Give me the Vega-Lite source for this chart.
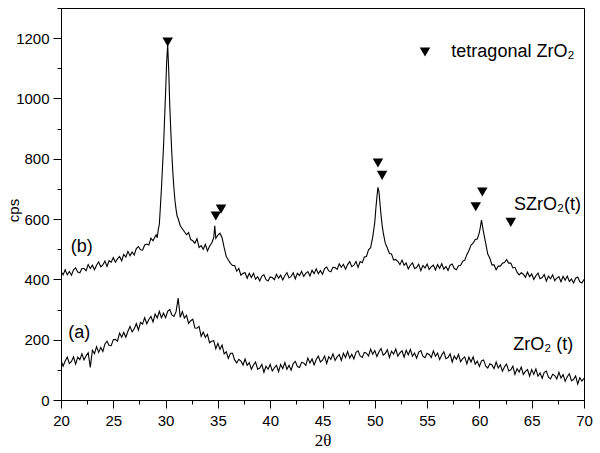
{
  "$schema": "https://vega.github.io/schema/vega-lite/v6.json",
  "width": 523,
  "height": 392,
  "autosize": {"type": "none"},
  "padding": {"left": 61, "top": 8, "right": 16, "bottom": 53},
  "background": "white",
  "config": {
    "view": {"stroke": "black", "strokeWidth": 1},
    "font": "Liberation Sans",
    "axis": {
      "grid": false,
      "domainColor": "black",
      "domainWidth": 1,
      "tickColor": "black",
      "tickWidth": 1,
      "labelColor": "black",
      "labelFont": "Liberation Sans",
      "labelFontSize": 15,
      "titleColor": "black",
      "titleFontWeight": "normal"
    }
  },
  "resolve": {"axis": {"x": "independent", "y": "independent"}},
  "datasets": {
    "za": [
      {"t":20.0,"c":131},{"t":20.2,"c":112},{"t":20.4,"c":129},{"t":20.6,"c":142},{"t":20.8,"c":121},
      {"t":21.0,"c":128},{"t":21.2,"c":143},{"t":21.4,"c":119},{"t":21.6,"c":142},{"t":21.8,"c":134},
      {"t":22.0,"c":153},{"t":22.2,"c":133},{"t":22.4,"c":147},{"t":22.6,"c":157},{"t":22.8,"c":108},
      {"t":23.0,"c":165},{"t":23.2,"c":154},{"t":23.4,"c":177},{"t":23.6,"c":158},{"t":23.8,"c":174},
      {"t":24.0,"c":161},{"t":24.2,"c":186},{"t":24.4,"c":195},{"t":24.6,"c":181},{"t":24.8,"c":180},
      {"t":25.0,"c":200},{"t":25.2,"c":201},{"t":25.4,"c":195},{"t":25.6,"c":222},{"t":25.8,"c":208},
      {"t":26.0,"c":224},{"t":26.2,"c":208},{"t":26.4,"c":228},{"t":26.6,"c":244},{"t":26.8,"c":226},
      {"t":27.0,"c":236},{"t":27.2,"c":253},{"t":27.4,"c":232},{"t":27.6,"c":257},{"t":27.8,"c":252},
      {"t":28.0,"c":273},{"t":28.2,"c":253},{"t":28.4,"c":267},{"t":28.6,"c":277},{"t":28.8,"c":259},
      {"t":29.0,"c":285},{"t":29.2,"c":272},{"t":29.4,"c":294},{"t":29.6,"c":273},{"t":29.8,"c":288},
      {"t":30.0,"c":273},{"t":30.2,"c":294},{"t":30.4,"c":300},{"t":30.6,"c":282},{"t":30.8,"c":277},
      {"t":31.0,"c":293},{"t":31.2,"c":338},{"t":31.4,"c":274},{"t":31.6,"c":293},{"t":31.8,"c":272},
      {"t":32.0,"c":281},{"t":32.2,"c":254},{"t":32.4,"c":263},{"t":32.6,"c":268},{"t":32.8,"c":239},
      {"t":33.0,"c":238},{"t":33.2,"c":244},{"t":33.4,"c":211},{"t":33.6,"c":225},{"t":33.8,"c":208},
      {"t":34.0,"c":218},{"t":34.2,"c":190},{"t":34.4,"c":195},{"t":34.6,"c":197},{"t":34.8,"c":170},
      {"t":35.0,"c":188},{"t":35.2,"c":168},{"t":35.4,"c":182},{"t":35.6,"c":153},{"t":35.8,"c":160},
      {"t":36.0,"c":138},{"t":36.2,"c":155},{"t":36.4,"c":155},{"t":36.6,"c":133},{"t":36.8,"c":123},
      {"t":37.0,"c":135},{"t":37.2,"c":129},{"t":37.4,"c":116},{"t":37.6,"c":136},{"t":37.8,"c":115},
      {"t":38.0,"c":124},{"t":38.2,"c":102},{"t":38.4,"c":116},{"t":38.6,"c":126},{"t":38.8,"c":102},
      {"t":39.0,"c":106},{"t":39.2,"c":118},{"t":39.4,"c":92},{"t":39.6,"c":112},{"t":39.8,"c":102},
      {"t":40.0,"c":118},{"t":40.2,"c":96},{"t":40.4,"c":107},{"t":40.6,"c":115},{"t":40.8,"c":94},
      {"t":41.0,"c":118},{"t":41.2,"c":104},{"t":41.4,"c":124},{"t":41.6,"c":102},{"t":41.8,"c":115},
      {"t":42.0,"c":99},{"t":42.2,"c":121},{"t":42.4,"c":128},{"t":42.6,"c":111},{"t":42.8,"c":108},
      {"t":43.0,"c":125},{"t":43.2,"c":123},{"t":43.4,"c":115},{"t":43.6,"c":139},{"t":43.8,"c":123},
      {"t":44.0,"c":136},{"t":44.2,"c":116},{"t":44.4,"c":134},{"t":44.6,"c":146},{"t":44.8,"c":126},
      {"t":45.0,"c":132},{"t":45.2,"c":146},{"t":45.4,"c":121},{"t":45.6,"c":144},{"t":45.8,"c":135},
      {"t":46.0,"c":153},{"t":46.2,"c":131},{"t":46.4,"c":143},{"t":46.6,"c":151},{"t":46.8,"c":131},
      {"t":47.0,"c":155},{"t":47.2,"c":141},{"t":47.4,"c":161},{"t":47.6,"c":139},{"t":47.8,"c":152},
      {"t":48.0,"c":136},{"t":48.2,"c":158},{"t":48.4,"c":163},{"t":48.6,"c":146},{"t":48.8,"c":141},
      {"t":49.0,"c":158},{"t":49.2,"c":155},{"t":49.4,"c":146},{"t":49.6,"c":169},{"t":49.8,"c":152},
      {"t":50.0,"c":164},{"t":50.2,"c":144},{"t":50.4,"c":160},{"t":50.6,"c":171},{"t":50.8,"c":149},
      {"t":51.0,"c":154},{"t":51.2,"c":167},{"t":51.4,"c":141},{"t":51.6,"c":162},{"t":51.8,"c":152},
      {"t":52.0,"c":169},{"t":52.2,"c":145},{"t":52.4,"c":156},{"t":52.6,"c":163},{"t":52.8,"c":142},
      {"t":53.0,"c":165},{"t":53.2,"c":150},{"t":53.4,"c":168},{"t":53.6,"c":145},{"t":53.8,"c":156},
      {"t":54.0,"c":139},{"t":54.2,"c":159},{"t":54.4,"c":164},{"t":54.6,"c":145},{"t":54.8,"c":140},
      {"t":55.0,"c":155},{"t":55.2,"c":151},{"t":55.4,"c":141},{"t":55.6,"c":163},{"t":55.8,"c":145},
      {"t":56.0,"c":156},{"t":56.2,"c":134},{"t":56.4,"c":149},{"t":56.6,"c":160},{"t":56.8,"c":137},
      {"t":57.0,"c":141},{"t":57.2,"c":153},{"t":57.4,"c":126},{"t":57.6,"c":146},{"t":57.8,"c":135},
      {"t":58.0,"c":151},{"t":58.2,"c":127},{"t":58.4,"c":137},{"t":58.6,"c":143},{"t":58.8,"c":120},
      {"t":59.0,"c":142},{"t":59.2,"c":126},{"t":59.4,"c":143},{"t":59.6,"c":119},{"t":59.8,"c":129},
      {"t":60.0,"c":111},{"t":60.2,"c":130},{"t":60.4,"c":133},{"t":60.6,"c":113},{"t":60.8,"c":106},
      {"t":61.0,"c":120},{"t":61.2,"c":116},{"t":61.4,"c":104},{"t":61.6,"c":126},{"t":61.8,"c":106},
      {"t":62.0,"c":117},{"t":62.2,"c":95},{"t":62.4,"c":110},{"t":62.6,"c":119},{"t":62.8,"c":96},
      {"t":63.0,"c":100},{"t":63.2,"c":112},{"t":63.4,"c":85},{"t":63.6,"c":104},{"t":63.8,"c":93},
      {"t":64.0,"c":109},{"t":64.2,"c":85},{"t":64.4,"c":95},{"t":64.6,"c":101},{"t":64.8,"c":79},
      {"t":65.0,"c":101},{"t":65.2,"c":85},{"t":65.4,"c":103},{"t":65.6,"c":79},{"t":65.8,"c":90},
      {"t":66.0,"c":72},{"t":66.2,"c":92},{"t":66.4,"c":96},{"t":66.6,"c":76},{"t":66.8,"c":70},
      {"t":67.0,"c":85},{"t":67.2,"c":81},{"t":67.4,"c":70},{"t":67.6,"c":92},{"t":67.8,"c":73},
      {"t":68.0,"c":84},{"t":68.2,"c":62},{"t":68.4,"c":77},{"t":68.6,"c":87},{"t":68.8,"c":64},
      {"t":69.0,"c":68},{"t":69.2,"c":80},{"t":69.4,"c":53},{"t":69.6,"c":74},{"t":69.8,"c":63},
      {"t":70.0,"c":72}
    ],
    "zb": [
      {"t":20.0,"c":426},{"t":20.2,"c":415},{"t":20.4,"c":432},{"t":20.6,"c":415},{"t":20.8,"c":426},
      {"t":21.0,"c":414},{"t":21.2,"c":432},{"t":21.4,"c":438},{"t":21.6,"c":424},{"t":21.8,"c":422},
      {"t":22.0,"c":436},{"t":22.2,"c":436},{"t":22.4,"c":429},{"t":22.6,"c":449},{"t":22.8,"c":436},
      {"t":23.0,"c":447},{"t":23.2,"c":432},{"t":23.4,"c":447},{"t":23.6,"c":458},{"t":23.8,"c":442},
      {"t":24.0,"c":448},{"t":24.2,"c":461},{"t":24.4,"c":443},{"t":24.6,"c":462},{"t":24.8,"c":457},
      {"t":25.0,"c":472},{"t":25.2,"c":457},{"t":25.4,"c":468},{"t":25.6,"c":476},{"t":25.8,"c":462},
      {"t":26.0,"c":483},{"t":26.2,"c":474},{"t":26.4,"c":493},{"t":26.6,"c":478},{"t":26.8,"c":491},
      {"t":27.0,"c":481},{"t":27.2,"c":502},{"t":27.4,"c":509},{"t":27.6,"c":498},{"t":27.8,"c":497},
      {"t":28.0,"c":514},{"t":28.2,"c":517},{"t":28.4,"c":514},{"t":28.6,"c":537},{"t":28.8,"c":528},
      {"t":29.0,"c":542},{"t":29.1,"c":548},{"t":29.2,"c":538},{"t":29.3,"c":566},{"t":29.4,"c":582},
      {"t":29.5,"c":640},{"t":29.6,"c":700},{"t":29.7,"c":770},{"t":29.8,"c":840},{"t":29.9,"c":930},
      {"t":30.0,"c":1020},{"t":30.1,"c":1120},{"t":30.2,"c":1178},{"t":30.3,"c":1090},{"t":30.4,"c":975},
      {"t":30.5,"c":890},{"t":30.6,"c":815},{"t":30.7,"c":750},{"t":30.8,"c":700},{"t":30.9,"c":660},
      {"t":31.0,"c":632},{"t":31.1,"c":610},{"t":31.2,"c":602},{"t":31.4,"c":578},{"t":31.6,"c":568},
      {"t":31.8,"c":558},{"t":32.0,"c":548},{"t":32.2,"c":555},{"t":32.4,"c":532},{"t":32.6,"c":528},
      {"t":32.8,"c":520},{"t":33.0,"c":535},{"t":33.2,"c":506},{"t":33.4,"c":512},{"t":33.6,"c":500},
      {"t":33.8,"c":516},{"t":34.0,"c":494},{"t":34.2,"c":510},{"t":34.4,"c":520},{"t":34.6,"c":538},
      {"t":34.7,"c":578},{"t":34.8,"c":536},{"t":35.0,"c":547},{"t":35.2,"c":553},{"t":35.4,"c":538},
      {"t":35.6,"c":505},{"t":35.8,"c":476},{"t":36.0,"c":464},{"t":36.2,"c":453},{"t":36.4,"c":446},
      {"t":36.6,"c":446},{"t":36.8,"c":427},{"t":37.0,"c":436},{"t":37.2,"c":414},{"t":37.4,"c":420},
      {"t":37.6,"c":422},{"t":37.8,"c":404},{"t":38.0,"c":420},{"t":38.2,"c":406},{"t":38.4,"c":420},
      {"t":38.6,"c":401},{"t":38.8,"c":409},{"t":39.0,"c":395},{"t":39.2,"c":411},{"t":39.4,"c":415},
      {"t":39.6,"c":399},{"t":39.8,"c":395},{"t":40.0,"c":408},{"t":40.2,"c":406},{"t":40.4,"c":399},
      {"t":40.6,"c":417},{"t":40.8,"c":404},{"t":41.0,"c":414},{"t":41.2,"c":398},{"t":41.4,"c":412},
      {"t":41.6,"c":422},{"t":41.8,"c":405},{"t":42.0,"c":410},{"t":42.2,"c":422},{"t":42.4,"c":402},
      {"t":42.6,"c":420},{"t":42.8,"c":413},{"t":43.0,"c":427},{"t":43.2,"c":410},{"t":43.4,"c":420},
      {"t":43.6,"c":426},{"t":43.8,"c":411},{"t":44.0,"c":430},{"t":44.2,"c":419},{"t":44.4,"c":435},
      {"t":44.6,"c":419},{"t":44.8,"c":429},{"t":45.0,"c":417},{"t":45.2,"c":436},{"t":45.4,"c":441},
      {"t":45.6,"c":428},{"t":45.8,"c":425},{"t":46.0,"c":440},{"t":46.2,"c":439},{"t":46.4,"c":433},
      {"t":46.6,"c":452},{"t":46.8,"c":440},{"t":47.0,"c":450},{"t":47.2,"c":434},{"t":47.4,"c":449},
      {"t":47.6,"c":459},{"t":47.8,"c":442},{"t":48.0,"c":447},{"t":48.2,"c":459},{"t":48.4,"c":440},
      {"t":48.6,"c":459},{"t":48.8,"c":455},{"t":49.0,"c":474},{"t":49.2,"c":476},{"t":49.4,"c":498},
      {"t":49.6,"c":505},{"t":49.8,"c":540},{"t":49.9,"c":565},{"t":50.0,"c":590},{"t":50.1,"c":635},
      {"t":50.2,"c":672},{"t":50.3,"c":705},{"t":50.4,"c":690},{"t":50.5,"c":650},{"t":50.6,"c":612},
      {"t":50.7,"c":580},{"t":50.8,"c":556},{"t":51.0,"c":520},{"t":51.2,"c":504},{"t":51.4,"c":486},
      {"t":51.6,"c":484},{"t":51.8,"c":464},{"t":52.0,"c":466},{"t":52.2,"c":460},{"t":52.4,"c":449},
      {"t":52.6,"c":464},{"t":52.8,"c":447},{"t":53.0,"c":454},{"t":53.2,"c":435},{"t":53.4,"c":447},
      {"t":53.6,"c":455},{"t":53.8,"c":436},{"t":54.0,"c":439},{"t":54.2,"c":450},{"t":54.4,"c":429},
      {"t":54.6,"c":446},{"t":54.8,"c":438},{"t":55.0,"c":451},{"t":55.2,"c":433},{"t":55.4,"c":442},
      {"t":55.6,"c":447},{"t":55.8,"c":431},{"t":56.0,"c":449},{"t":56.2,"c":437},{"t":56.4,"c":452},
      {"t":56.6,"c":434},{"t":56.8,"c":443},{"t":57.0,"c":430},{"t":57.2,"c":447},{"t":57.4,"c":451},
      {"t":57.6,"c":436},{"t":57.8,"c":432},{"t":58.0,"c":445},{"t":58.2,"c":446},{"t":58.4,"c":460},
      {"t":58.6,"c":464},{"t":58.8,"c":482},{"t":59.0,"c":496},{"t":59.2,"c":514},{"t":59.4,"c":520},
      {"t":59.6,"c":532},{"t":59.8,"c":534},{"t":60.0,"c":556},{"t":60.1,"c":575},{"t":60.2,"c":597},
      {"t":60.3,"c":575},{"t":60.4,"c":556},{"t":60.6,"c":520},{"t":60.8,"c":484},{"t":61.0,"c":470},
      {"t":61.2,"c":448},{"t":61.4,"c":448},{"t":61.6,"c":432},{"t":61.8,"c":444},{"t":62.0,"c":444},
      {"t":62.2,"c":454},{"t":62.4,"c":456},{"t":62.6,"c":466},{"t":62.8,"c":454},{"t":63.0,"c":454},
      {"t":63.2,"c":438},{"t":63.4,"c":440},{"t":63.6,"c":424},{"t":63.8,"c":415},{"t":64.0,"c":422},
      {"t":64.2,"c":417},{"t":64.4,"c":407},{"t":64.6,"c":424},{"t":64.8,"c":409},{"t":65.0,"c":418},
      {"t":65.2,"c":400},{"t":65.4,"c":412},{"t":65.6,"c":421},{"t":65.8,"c":402},{"t":66.0,"c":406},
      {"t":66.2,"c":416},{"t":66.4,"c":394},{"t":66.6,"c":411},{"t":66.8,"c":402},{"t":67.0,"c":415},
      {"t":67.2,"c":396},{"t":67.4,"c":404},{"t":67.6,"c":409},{"t":67.8,"c":392},{"t":68.0,"c":410},
      {"t":68.2,"c":397},{"t":68.4,"c":411},{"t":68.6,"c":393},{"t":68.8,"c":401},{"t":69.0,"c":388},
      {"t":69.2,"c":404},{"t":69.4,"c":408},{"t":69.6,"c":392},{"t":69.8,"c":388},{"t":70.0,"c":400}
    ],
    "tri": [
      {"t":30.2,"c":1187},{"t":34.8,"c":610},{"t":35.3,"c":633},{"t":50.3,"c":786},
      {"t":50.7,"c":745},{"t":59.65,"c":641},{"t":60.28,"c":690},{"t":63.0,"c":589},{"t":54.8,"c":1154}
    ],
    "lab": [
      {"t":21.98,"c":508,"s":"(b)"},
      {"t":21.75,"c":221,"s":"(a)"},
      {"t":66.5,"c":646,"s":"SZrO₂(t)"},
      {"t":66.1,"c":182,"s":"ZrO₂ (t)"},
      {"t":63.2,"c":1155,"s":"tetragonal ZrO₂"}
    ]
  },
  "layer": [
    {
      "data": {"name": "za"},
      "mark": {"type": "line", "color": "black", "strokeWidth": 1.1, "clip": true},
      "encoding": {
        "x": {
          "field": "t", "type": "quantitative",
          "scale": {"domain": [20, 70], "nice": false, "zero": false},
          "axis": {
            "orient": "bottom",
            "title": "2θ",
            "titleFont": "Liberation Serif",
            "titleFontSize": 17,
            "titleX": 261.5,
            "titleY": 40,
            "titleBaseline": "middle",
            "values": [20,25,30,35,40,45,50,55,60,65,70],
            "tickSize": 8,
            "labelPadding": 5,
            "labelFlush": false,
            "labelOverlap": false
          }
        },
        "y": {
          "field": "c", "type": "quantitative",
          "scale": {"domain": [0, 1300], "nice": false},
          "axis": {
            "orient": "left",
            "title": "cps",
            "titleFont": "Liberation Sans",
            "titleFontSize": 15,
            "titleX": -48,
            "titleY": 202,
            "titleAngle": -90,
            "titleBaseline": "middle",
            "titleAlign": "center",
            "values": [0,200,400,600,800,1000,1200],
            "tickSize": 8,
            "labelPadding": 4,
            "format": "d",
            "labelFlush": false,
            "labelOverlap": false
          }
        }
      }
    },
    {
      "data": {"name": "zb"},
      "mark": {"type": "line", "color": "black", "strokeWidth": 1.1, "clip": true},
      "encoding": {
        "x": {"field": "t", "type": "quantitative", "axis": null},
        "y": {"field": "c", "type": "quantitative", "axis": null}
      }
    },
    {
      "data": {"name": "tri"},
      "mark": {"type": "point", "shape": "triangle-down", "filled": true, "color": "black", "size": 110, "opacity": 1},
      "encoding": {
        "x": {
          "field": "t", "type": "quantitative",
          "axis": {
            "orient": "bottom", "title": null, "labels": false, "domain": false, "tickSize": 4,
            "values": [22.5,27.5,32.5,37.5,42.5,47.5,52.5,57.5,62.5,67.5]
          }
        },
        "y": {
          "field": "c", "type": "quantitative",
          "axis": {
            "orient": "left", "title": null, "labels": false, "domain": false, "tickSize": 4,
            "values": [100,300,500,700,900,1100,1300]
          }
        }
      }
    },
    {
      "data": {"name": "lab"},
      "mark": {"type": "text", "font": "Liberation Sans", "fontSize": 18, "color": "black", "align": "center", "baseline": "middle"},
      "encoding": {
        "x": {"field": "t", "type": "quantitative", "axis": null},
        "y": {"field": "c", "type": "quantitative", "axis": null},
        "text": {"field": "s"}
      }
    }
  ]
}
